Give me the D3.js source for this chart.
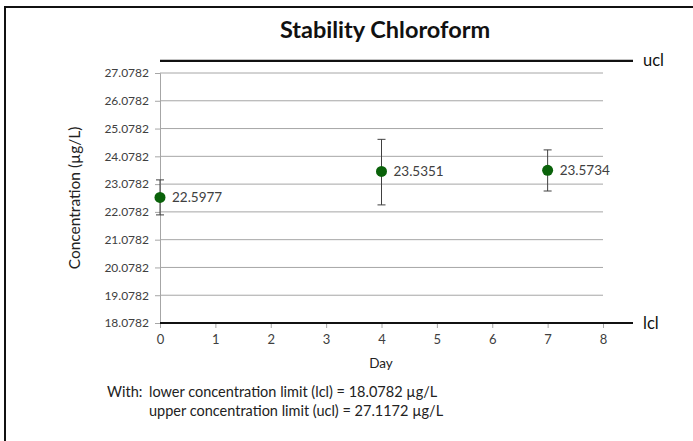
<!DOCTYPE html>
<html><head><meta charset="utf-8">
<script src="https://cdn.jsdelivr.net/npm/d3@7"></script>
<style>body{margin:0;background:#fff}svg{display:block}text{font-family:Lato,"Open Sans",sans-serif}</style>
</head><body><svg id="c" width="693" height="441"></svg>
<script>
const days = [0, 4, 7];
const values = [22.5977, 23.5351, 23.5734];
const errLow = [21.97, 22.33, 22.83];
const errHigh = [23.23, 24.69, 24.31];
const yTicks = [18.0782, 19.0782, 20.0782, 21.0782, 22.0782, 23.0782, 24.0782, 25.0782, 26.0782, 27.0782];
const xTicks = [0, 1, 2, 3, 4, 5, 6, 7, 8];
const lcl = 18.0782, ucl = 27.1172;
const yTop = 27.5182; // plotted top of chart area where ucl line is shown

const svg = d3.select("#c");
svg.append("rect").attr("x", 5).attr("y", 7).attr("width", 700).attr("height", 450)
  .attr("fill", "#fff").attr("stroke", "#111").attr("stroke-width", 2);

const x = d3.scaleLinear().domain([0, 8]).range([160, 603]);
const y = d3.scaleLinear().domain([lcl, 27.0782]).range([323, 73]);

svg.append("text").attr("x", 385).attr("y", 38).attr("text-anchor", "middle")
  .attr("font-size", 23.5).attr("font-weight", "bold").attr("fill", "#111").text("Stability Chloroform");

// gridlines
svg.append("g").selectAll("line").data(yTicks.slice(1)).join("line")
  .attr("x1", x(0)).attr("x2", x(8)).attr("y1", d => y(d)).attr("y2", d => y(d))
  .attr("stroke", "#a6a6a6").attr("stroke-width", 1);

// y axis
const yAxis = svg.append("g").attr("transform", `translate(${x(0)},0)`)
  .call(d3.axisLeft(y).tickValues(yTicks).tickFormat(d3.format(".4f")).tickSize(5).tickPadding(6));
yAxis.select(".domain").attr("stroke", "#a6a6a6");
yAxis.selectAll(".tick line").attr("stroke", "#a6a6a6");
yAxis.selectAll("text").attr("font-size", 12).attr("fill", "#404040").attr("font-family", "Lato,sans-serif");

// x axis
const xAxis = svg.append("g").attr("transform", `translate(0,${y(lcl)})`)
  .call(d3.axisBottom(x).tickValues(xTicks).tickFormat(d3.format("d")).tickSize(5).tickPadding(7));
xAxis.select(".domain").attr("stroke", "#a6a6a6");
xAxis.selectAll(".tick line").attr("stroke", "#a6a6a6");
xAxis.selectAll("text").attr("font-size", 13).attr("fill", "#404040").attr("font-family", "Lato,sans-serif");

// limit lines
const yU = y(yTop);
svg.append("line").attr("x1", x(0)).attr("x2", 633).attr("y1", yU).attr("y2", yU)
  .attr("stroke", "#111").attr("stroke-width", 2.2);
svg.append("line").attr("x1", x(0)).attr("x2", 633).attr("y1", y(lcl)).attr("y2", y(lcl))
  .attr("stroke", "#111").attr("stroke-width", 2.2);
svg.append("text").attr("x", 643).attr("y", yU + 5).attr("font-size", 16.5).attr("fill", "#111").text("ucl");
svg.append("text").attr("x", 643).attr("y", y(lcl) + 6).attr("font-size", 16.5).attr("fill", "#111").text("lcl");

// axis titles
svg.append("text").attr("x", 381).attr("y", 368).attr("text-anchor", "middle")
  .attr("font-size", 13.5).attr("fill", "#222").text("Day");
svg.append("text").attr("transform", `translate(80,${(y(lcl) + y(27.0782)) / 2}) rotate(-90)`)
  .attr("text-anchor", "middle").attr("font-size", 15.5).attr("fill", "#222").text("Concentration (µg/L)");

// error bars
const eb = svg.append("g").attr("stroke", "#404040").attr("stroke-width", 1);
days.forEach((d, i) => {
  eb.append("line").attr("x1", x(d)).attr("x2", x(d)).attr("y1", y(errLow[i])).attr("y2", y(errHigh[i]));
  eb.append("line").attr("x1", x(d) - 4).attr("x2", x(d) + 4).attr("y1", y(errLow[i])).attr("y2", y(errLow[i]));
  eb.append("line").attr("x1", x(d) - 4).attr("x2", x(d) + 4).attr("y1", y(errHigh[i])).attr("y2", y(errHigh[i]));
});

// points
svg.append("g").selectAll("circle").data(days).join("circle")
  .attr("cx", d => x(d)).attr("cy", (d, i) => y(values[i])).attr("r", 5.5).attr("fill", "#0a620a");
svg.append("g").selectAll("text").data(days).join("text")
  .attr("x", d => x(d) + 12).attr("y", (d, i) => y(values[i]) + 5)
  .attr("font-size", 13.5).attr("fill", "#404040").text((d, i) => values[i].toFixed(4));

// footnote
svg.append("text").attr("x", 107).attr("y", 397).attr("font-size", 14.5).attr("fill", "#222").text("With:");
svg.append("text").attr("x", 149).attr("y", 397).attr("font-size", 14.5).attr("fill", "#222")
  .text(`lower concentration limit (lcl) = ${lcl} µg/L`);
svg.append("text").attr("x", 149).attr("y", 416).attr("font-size", 14.5).attr("fill", "#222")
  .text(`upper concentration limit (ucl) = ${ucl} µg/L`);
</script></body></html>
